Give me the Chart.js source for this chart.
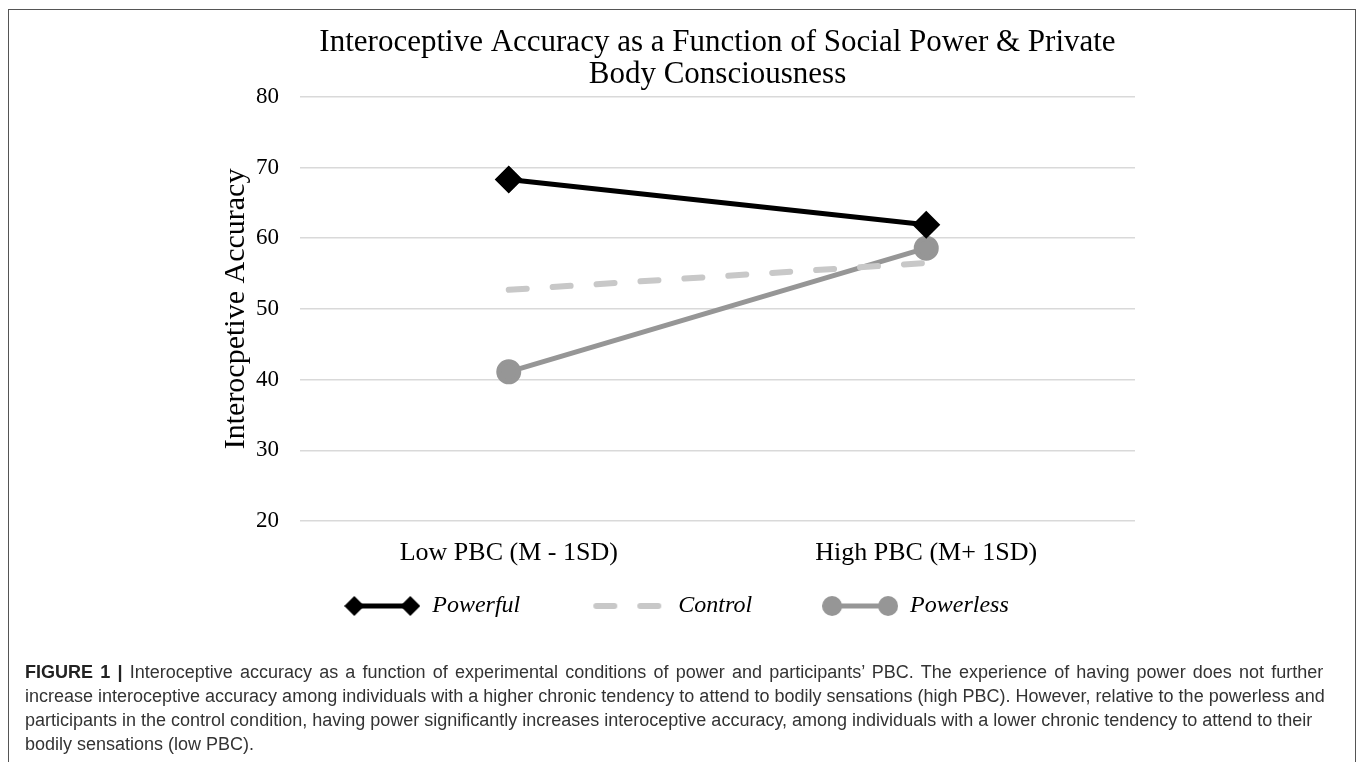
<!DOCTYPE html>
<html lang="en">

<head>
    <meta charset="UTF-8">
    <title>Interoceptive Accuracy</title>
    <script src="https://cdn.jsdelivr.net/npm/chart.js@4.4.1/dist/chart.umd.min.js"></script>
    <style>
        html, body {
            margin: 0;
            padding: 0;
            background: #fff;
            overflow: hidden;
        }

        .figure-box {
            position: absolute;
            left: 8px;
            top: 9px;
            width: 1346px;
            height: 790px;
            border: 1px solid #555;
        }

        #chart-container {
            position: absolute;
            left: 0;
            top: 0;
            width: 1346px;
            height: 678px;
        }

        .caption {
            position: absolute;
            left: 16px;
            top: 650px;
            width: 1325px;
            font-family: "Liberation Sans", Arial, sans-serif;
            font-size: 18px;
            line-height: 24px;
            color: #333;
            white-space: nowrap;
        }

        .caption b {
            color: #222;
        }

        .caption .wide {
            word-spacing: 2.2px;
        }
    </style>
</head>

<body>
    <div class="figure-box">
        <div id="chart-container">
            <canvas id="chart"></canvas>
        </div>
        <div class="caption">
            <span class="wide"><b>FIGURE 1 |</b> Interoceptive accuracy as a function of experimental conditions of power and participants’ PBC. The experience of having power does not further</span><br>
            increase interoceptive accuracy among individuals with a higher chronic tendency to attend to bodily sensations (high PBC). However, relative to the powerless and<br>
            participants in the control condition, having power significantly increases interoceptive accuracy, among individuals with a lower chronic tendency to attend to their<br>
            bodily sensations (low PBC).
        </div>
    </div>

    <script>
        // Daten
        var categories = ['Low PBC (M - 1SD)', 'High PBC (M+ 1SD)'];
        var seriesNames = ['Powerful', 'Control', 'Powerless'];
        var powerful = [68.3, 61.9];
        var control = [52.7, 56.5];
        var powerless = [41.1, 58.6];
        var yTicks = [20, 30, 40, 50, 60, 70, 80];

        var serif = '"Liberation Serif", "Times New Roman", serif';

        // kleine Legendensymbole (Linie mit Markern)
        function legendSymbol(kind) {
            var c = document.createElement('canvas');
            c.width = 76;
            c.height = 24;
            var g = c.getContext('2d');
            g.lineWidth = 5;
            if (kind === 'Control') {
                g.strokeStyle = '#c8c8c8';
                g.lineWidth = 6;
                g.lineCap = 'round';
                g.setLineDash([18, 26]);
                g.beginPath();
                g.moveTo(6, 12);
                g.lineTo(70, 12);
                g.stroke();
                return c;
            }
            var col = kind === 'Powerful' ? '#000' : '#969696';
            g.strokeStyle = col;
            g.fillStyle = col;
            g.beginPath();
            g.moveTo(10, 12);
            g.lineTo(66, 12);
            g.stroke();
            [10, 66].forEach(function (x) {
                g.beginPath();
                if (kind === 'Powerful') {
                    g.moveTo(x, 2);
                    g.lineTo(x + 10, 12);
                    g.lineTo(x, 22);
                    g.lineTo(x - 10, 12);
                    g.closePath();
                } else {
                    g.arc(x, 12, 10, 0, Math.PI * 2);
                }
                g.fill();
            });
            return c;
        }
        var symbols = seriesNames.map(legendSymbol);

        // labels.padding 70 gilt auch vertikal -> Legende etwas hochziehen
        var legendLift = {
            id: 'legendLift',
            afterLayout: function (c) {
                c.legend.top -= 60;
                c.legend.bottom -= 60;
            }
        };

        var ctx = document.getElementById('chart').getContext('2d');
        var chart = new Chart(ctx, {
            type: 'line',
            data: {
                labels: categories,
                datasets: [{
                    label: seriesNames[0],
                    data: powerful,
                    borderColor: '#000',
                    backgroundColor: '#000',
                    borderWidth: 5,
                    pointStyle: 'rectRot',
                    pointRadius: 10.5,
                    pointHoverRadius: 10.5
                }, {
                    label: seriesNames[1],
                    data: control,
                    borderColor: '#c8c8c8',
                    backgroundColor: '#c8c8c8',
                    borderWidth: 6,
                    borderDash: [18, 26],
                    borderCapStyle: 'round',
                    pointRadius: 0,
                    pointHoverRadius: 0
                }, {
                    label: seriesNames[2],
                    data: powerless,
                    borderColor: '#969696',
                    backgroundColor: '#969696',
                    borderWidth: 5,
                    pointStyle: 'circle',
                    pointRadius: 10,
                    pointHoverRadius: 10
                }]
            },
            plugins: [legendLift],
            options: {
                responsive: true,
                maintainAspectRatio: false,
                animation: false,
                layout: {
                    padding: { left: 209, right: 220, top: 0, bottom: 0 }
                },
                scales: {
                    x: {
                        offset: true,
                        grid: { display: false, drawTicks: false },
                        border: { display: false },
                        ticks: {
                            padding: 17,
                            color: '#000',
                            font: { family: serif, size: 26 }
                        },
                        afterFit: function (scale) {
                            scale.height = 63;
                        }
                    },
                    y: {
                        min: 20,
                        max: 80,
                        afterBuildTicks: function (scale) {
                            scale.ticks = yTicks.map(function (v) { return { value: v }; });
                        },
                        afterFit: function (scale) {
                            scale.width = 82;
                        },
                        grid: { color: '#d9d9d9', lineWidth: 1.5, drawTicks: false },
                        border: { display: false },
                        ticks: {
                            padding: 21,
                            color: '#000',
                            font: { family: serif, size: 23 }
                        },
                        title: {
                            display: true,
                            text: 'Interocpetive Accuracy',
                            color: '#000',
                            font: { family: serif, size: 30 },
                            padding: { top: 0, bottom: 0 }
                        }
                    }
                },
                plugins: {
                    title: {
                        display: true,
                        fullSize: false,
                        text: ['Interoceptive Accuracy as a Function of Social Power & Private', 'Body Consciousness'],
                        color: '#000',
                        font: { family: serif, size: 31, weight: 'normal', lineHeight: 1.03 },
                        padding: { top: 17, bottom: 6 }
                    },
                    legend: {
                        position: 'bottom',
                        labels: {
                            usePointStyle: true,
                            pointStyleWidth: 76,
                            padding: 70,
                            color: '#000',
                            font: { family: serif, size: 24, style: 'italic' },
                            generateLabels: function (c) {
                                var items = Chart.defaults.plugins.legend.labels.generateLabels(c);
                                items.forEach(function (it, i) {
                                    it.pointStyle = symbols[i];
                                });
                                return items;
                            }
                        }
                    },
                    tooltip: { enabled: false }
                }
            }
        });
    </script>
</body>

</html>
